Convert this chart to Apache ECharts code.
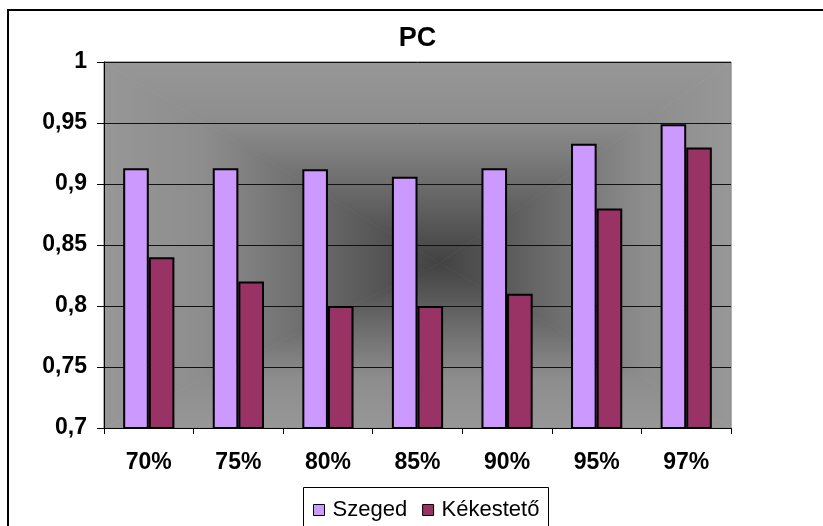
<!DOCTYPE html>
<html>
<head>
<meta charset="utf-8">
<script src="https://cdn.jsdelivr.net/npm/echarts@6/dist/echarts.min.js"></script>
<style>
  html, body { margin: 0; padding: 0; background: #fff; overflow: hidden; }
  #chart { width: 823px; height: 526px; }
</style>
</head>
<body>
<div id="chart"></div>
<script>
// PC values per threshold for the two stations
const categories = ['70%', '75%', '80%', '85%', '90%', '95%', '97%'];
const szeged = [0.913, 0.913, 0.912, 0.906, 0.913, 0.933, 0.949];
const kekesteto = [0.84, 0.82, 0.80, 0.80, 0.81, 0.88, 0.93];
const seriesNames = ['Szeged', 'Kékestető'];
const yMin = 0.7, yMax = 1, yStep = 0.05;

const FONT = '"Liberation Sans", Arial, sans-serif';

// plot area box (px)
const G = { left: 104, top: 62, right: 92, bottom: 98 };
const W = 823, H = 526;
const L = G.left, T = G.top, R = W - G.right, B = H - G.bottom;
const titleX = (L + R) / 2;
// focus of the shading, a little right of and below the middle
const cx = L + (R - L) * 0.535, cy = T + (B - T) * 0.55;

// rectangular "from centre" shading: four triangles, each shaded edge -> focus
const stops = [
  { offset: 0, color: '#979797' },
  { offset: 0.3, color: '#8d8d8d' },
  { offset: 0.65, color: '#686868' },
  { offset: 1, color: '#424242' }
];
function tri(points, x1, y1, x2, y2) {
  const g = new echarts.graphic.LinearGradient(x1, y1, x2, y2, stops, true);
  return {
    type: 'polygon', z: -10, silent: true,
    shape: { points: points },
    style: { fill: g, stroke: g, lineWidth: 0.8 }
  };
}
const shading = [
  tri([[L, T], [R, T], [cx, cy]], 0, T, 0, cy),
  tri([[L, B], [R, B], [cx, cy]], 0, B, 0, cy),
  tri([[L, T], [L, B], [cx, cy]], L, 0, cx, 0),
  tri([[R, T], [R, B], [cx, cy]], R, 0, cx, 0)
];

const fmt = v => String(+v.toFixed(2)).replace('.', ',');

const chart = echarts.init(document.getElementById('chart'), null, { renderer: 'canvas' });
chart.setOption({
  backgroundColor: '#ffffff',
  animation: false,
  title: {
    text: 'PC', left: titleX, top: 25, textAlign: 'center', padding: 0,
    textStyle: { fontFamily: FONT, fontSize: 27, fontWeight: 'bold', color: '#000' }
  },
  grid: {
    left: G.left, top: G.top, right: G.right, bottom: G.bottom,
    show: true, borderColor: '#8a8a8a', borderWidth: 1, backgroundColor: 'transparent'
  },
  legend: {
    data: seriesNames,
    left: 313, top: 499, padding: 0,
    itemWidth: 11, itemHeight: 11, itemGap: 15,
    icon: 'rect',
    itemStyle: { borderColor: '#000', borderWidth: 1 },
    textStyle: { fontFamily: FONT, fontSize: 22, color: '#000', padding: [0, 0, 0, 3] }
  },
  xAxis: {
    type: 'category', data: categories, z: 3,
    axisLine: { lineStyle: { color: '#000', width: 1 } },
    axisTick: { show: true, alignWithLabel: false, length: 6, lineStyle: { color: '#000' } },
    axisLabel: { margin: 23, fontFamily: FONT, fontSize: 23, fontWeight: 'bold', color: '#000' },
    splitLine: { show: false }
  },
  yAxis: {
    type: 'value', min: yMin, max: yMax, interval: yStep, z: 3,
    axisLine: { show: true, lineStyle: { color: '#000', width: 1 } },
    axisTick: { show: true, length: 7, lineStyle: { color: '#000' } },
    axisLabel: { margin: 17, formatter: fmt, fontFamily: FONT, fontSize: 23, fontWeight: 'bold', color: '#000' },
    splitLine: { show: true, lineStyle: { color: '#111', width: 1 } }
  },
  series: [
    {
      name: seriesNames[0], type: 'bar', data: szeged, z: 4,
      barWidth: 25.6, barGap: '0%',
      itemStyle: { color: '#CC99FF', borderColor: '#000', borderWidth: 2 }
    },
    {
      name: seriesNames[1], type: 'bar', data: kekesteto, z: 4,
      barWidth: 25.6, barGap: '0%',
      itemStyle: { color: '#993366', borderColor: '#000', borderWidth: 2 }
    }
  ],
  graphic: shading.concat([
    // chart frame: left and top edges
    { type: 'line', z: 10, silent: true,
      shape: { x1: 8, y1: 9, x2: 8, y2: 526 },
      style: { stroke: '#000', lineWidth: 2 } },
    { type: 'line', z: 10, silent: true,
      shape: { x1: 7, y1: 10, x2: 823, y2: 10 },
      style: { stroke: '#000', lineWidth: 2 } },
    // legend box
    { type: 'rect', z: 10, silent: true,
      shape: { x: 303.5, y: 487.5, width: 245, height: 60 },
      style: { fill: 'none', stroke: '#000', lineWidth: 1 } }
  ])
});
</script>
</body>
</html>
